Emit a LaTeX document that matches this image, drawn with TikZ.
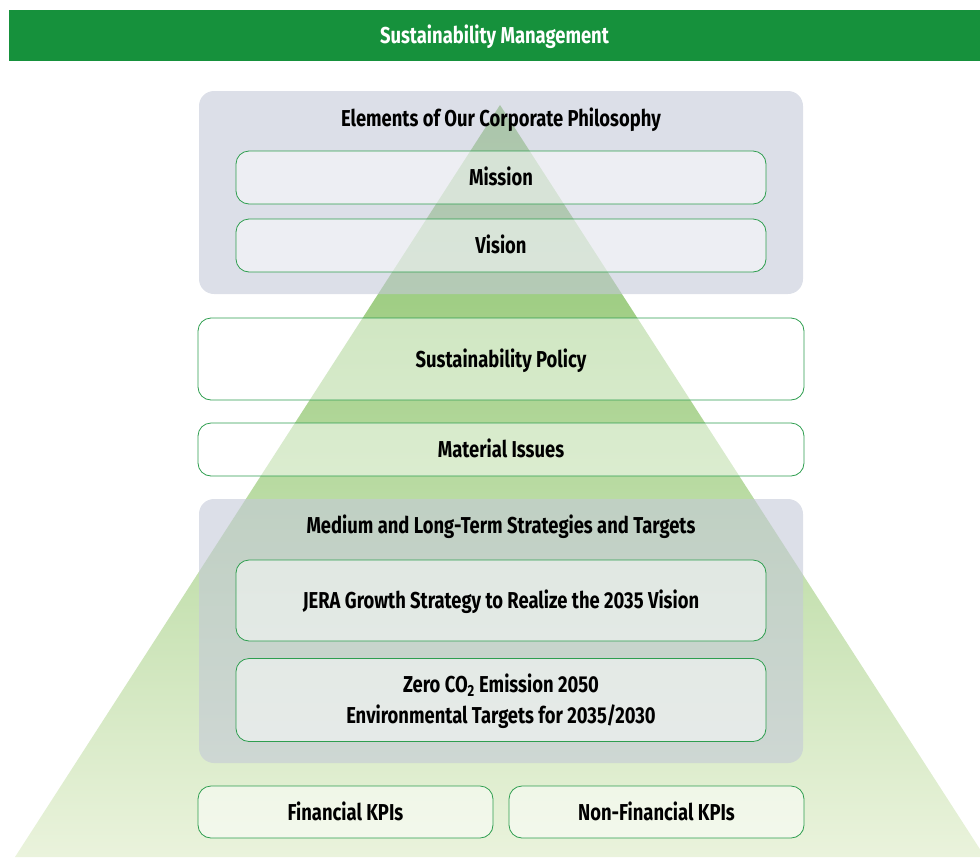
\documentclass[tikz,border=0pt]{standalone}
\usepackage{fontspec}
\setmainfont{Fira Sans}[FakeStretch=0.8]
\definecolor{headgreen}{HTML}{16913C}
\definecolor{linegreen}{HTML}{2E9E4F}
\definecolor{panelgray}{HTML}{C4C9D8}
\definecolor{pyrtop}{HTML}{86C166}
\definecolor{pyrmid}{HTML}{B4D99A}
\definecolor{pyrbot}{HTML}{EAF3DC}
\begin{document}
\begin{tikzpicture}[x=1pt,y=-1pt,
		lbl/.style={font=\fontsize{23}{31}\selectfont\bfseries,align=center,inner sep=0pt,text height=16pt,text depth=0pt},
		panel/.style={fill=panelgray,fill opacity=0.6,rounded corners=15pt,inner sep=0pt},
		box/.style={lbl,draw=linegreen,line width=0.8pt,fill=white,fill opacity=0.5,text opacity=1,rounded corners=13pt}]
		\useasboundingbox (0,0) rectangle (980,857);
		\coordinate (apex) at (500,105);
		\coordinate (baseL) at (15,857);
		\coordinate (baseR) at (985,857);
		\begin{scope}
			\clip (0,0) rectangle (980,857);
			\shade[top color=pyrtop,middle color=pyrmid,bottom color=pyrbot] (apex) -- (baseR) -- (baseL) -- cycle;
		\end{scope}
		
		\node[lbl,fill=headgreen,text=white,minimum width=971pt,minimum height=51pt] (head) at (494.5,35.5) {Sustainability Management};
		
		\node[panel,minimum width=604pt,minimum height=203pt] (philo) at (501,192.5) {};
		\node[lbl] (philotitle) at (501,118) {Elements of Our Corporate Philosophy};
		\foreach \t/\y[count=\i] in {Mission/177.5,Vision/245.5}{
			\node[box,minimum width=530pt,minimum height=53pt] (ph\i) at (501,\y) {\t};
		}
		
		\node[box,minimum width=606pt,minimum height=82pt] (policy) at (501,359) {Sustainability Policy};
		\node[box,minimum width=606pt,minimum height=53pt] (issues) at (501,449.5) {Material Issues};
		
		\node[panel,minimum width=604pt,minimum height=264pt] (strat) at (501,631) {};
		\node[lbl] (strattitle) at (501,525) {Medium and Long-Term Strategies and Targets};
		\node[box,minimum width=530pt,minimum height=81pt] (growth) at (501,600.5) {JERA Growth Strategy to Realize the 2035 Vision};
		\node[box,minimum width=530pt,minimum height=83pt,text height=47pt] (zero) at (501,700) {Zero CO\textsubscript{2} Emission 2050\\Environmental Targets for 2035/2030};
		
		\node[box,minimum width=295pt,minimum height=52pt] (fin) at (345.5,812) {Financial KPIs};
		\node[box,minimum width=295pt,minimum height=52pt] (nonfin) at (656.5,812) {Non-Financial KPIs};
\end{tikzpicture}
\end{document}
